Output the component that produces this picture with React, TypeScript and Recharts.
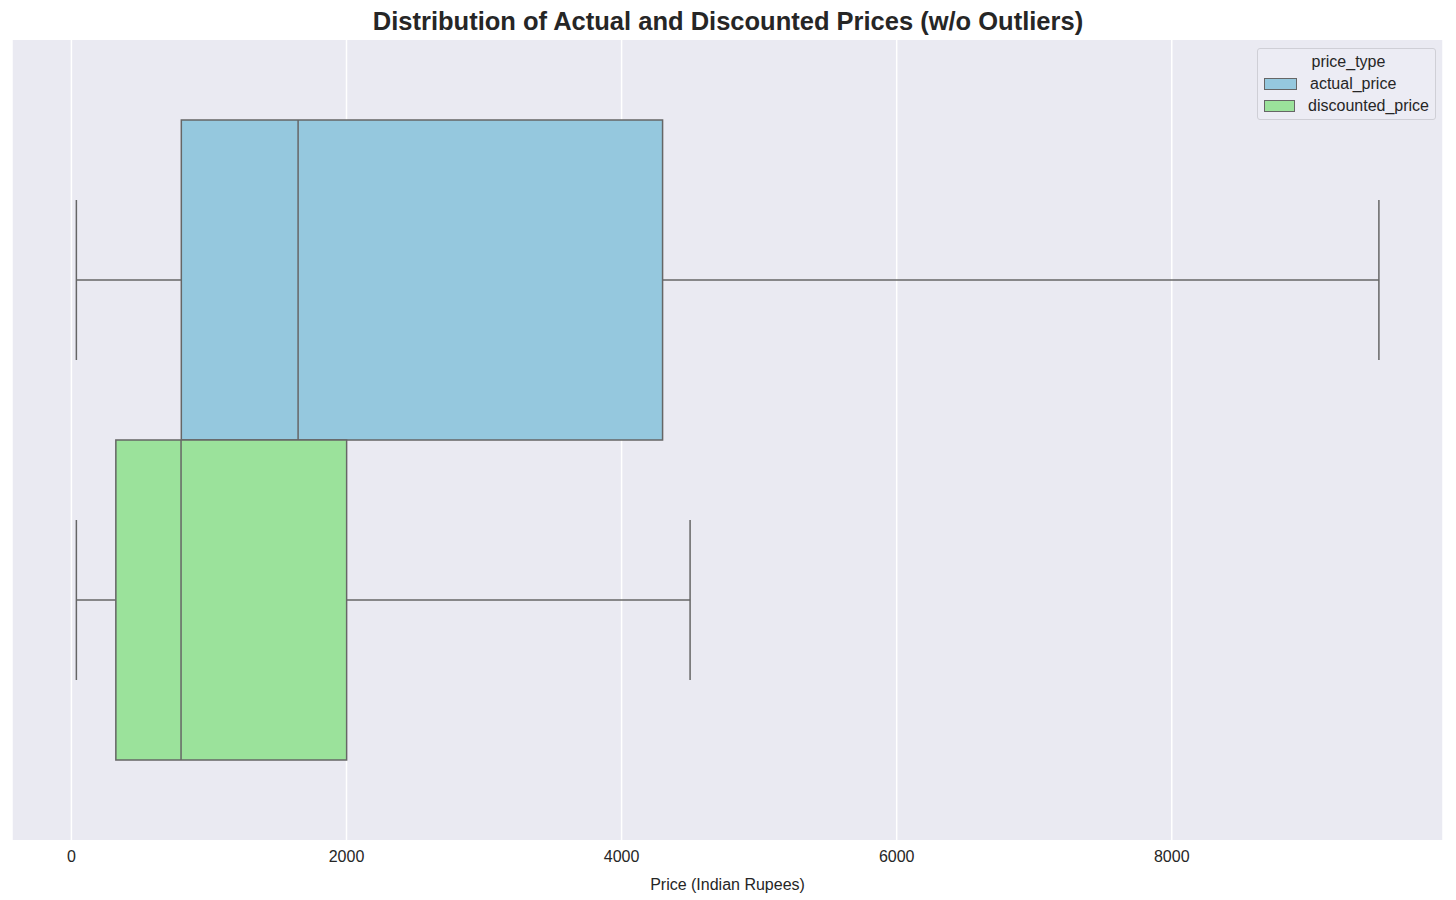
import React from "react";
import { BarChart, Bar, XAxis, YAxis, CartesianGrid } from "recharts";

// seaborn-style horizontal boxplot, outliers removed
const priceTypes = ["actual_price", "discounted_price"];
const boxColors = ["#95C8DE", "#9BE29B"];
const whiskerLow = [36, 36];
const q1 = [799, 323];
const median = [1648, 797];
const q3 = [4298, 2001];
const whiskerHigh = [9506, 4498];
const xTicks = [0, 2000, 4000, 6000, 8000];

const data = [
  {
    group: "price",
    actual_price: [whiskerLow[0], whiskerHigh[0]],
    discounted_price: [whiskerLow[1], whiskerHigh[1]],
  },
];

const LINE = "#666666";
const FONT = "'Liberation Sans', Arial, sans-serif";

function makeBoxShape(i: number) {
  return (props: any) => {
    const { x, y, width, height } = props;
    const lo = whiskerLow[i];
    const hi = whiskerHigh[i];
    const s = (v: number) => x + ((v - lo) * width) / (hi - lo);
    const cy = y + height / 2;
    const cap = height / 4;
    return (
      <g>
        <line x1={s(lo)} x2={s(q1[i])} y1={cy} y2={cy} stroke={LINE} strokeWidth={1.5} />
        <line x1={s(q3[i])} x2={s(hi)} y1={cy} y2={cy} stroke={LINE} strokeWidth={1.5} />
        <line x1={s(lo)} x2={s(lo)} y1={cy - cap} y2={cy + cap} stroke={LINE} strokeWidth={1.5} />
        <line x1={s(hi)} x2={s(hi)} y1={cy - cap} y2={cy + cap} stroke={LINE} strokeWidth={1.5} />
        <rect
          x={s(q1[i])}
          y={y}
          width={s(q3[i]) - s(q1[i])}
          height={height}
          fill={boxColors[i]}
          stroke={LINE}
          strokeWidth={1.5}
        />
        <line x1={s(median[i])} x2={s(median[i])} y1={y} y2={y + height} stroke={LINE} strokeWidth={1.5} />
      </g>
    );
  };
}

function LegendBox() {
  return (
    <div
      style={{
        position: "absolute",
        top: 48,
        left: 1257,
        width: 179,
        height: 72,
        boxSizing: "border-box",
        fontFamily: FONT,
        fontSize: 16,
        color: "#262626",
        background: "rgba(236,236,244,0.9)",
        border: "1px solid #cfcfd6",
        borderRadius: 3,
        padding: "2px 6px 0 6px",
        zIndex: 2,
      }}
    >
      <div style={{ textAlign: "center", lineHeight: "22px", paddingLeft: 4 }}>price_type</div>
      {priceTypes.map((name, i) => (
        <div key={name} style={{ display: "flex", alignItems: "center", lineHeight: "22px" }}>
          <span
            style={{
              display: "inline-block",
              width: 31,
              height: 10,
              background: boxColors[i],
              border: `1px solid ${LINE}`,
              marginRight: 13,
            }}
          />
          {name}
        </div>
      ))}
    </div>
  );
}

export default function App() {
  return (
    <div
      style={{
        position: "absolute",
        left: 0,
        top: 0,
        width: 1456,
        height: 900,
        background: "#ffffff",
        fontFamily: FONT,
      }}
    >
      <div
        style={{
          position: "absolute",
          top: 7,
          left: 0,
          width: 1456,
          textAlign: "center",
          fontSize: 25.5,
          fontWeight: "bold",
          color: "#262626",
          zIndex: 2,
        }}
      >
        Distribution of Actual and Discounted Prices (w/o Outliers)
      </div>
      <LegendBox />
      <BarChart
        width={1456}
        height={900}
        data={data}
        layout="vertical"
        margin={{ top: 40, right: 13, left: 12, bottom: 5 }}
        barCategoryGap="10%"
        barGap={0}
      >
        <CartesianGrid
          horizontal={false}
          fill="#EAEAF2"
          stroke="#ffffff"
          strokeWidth={1.5}
        />
        <XAxis
          type="number"
          domain={[-432, 9972]}
          ticks={xTicks}
          allowDataOverflow
          height={55}
          tickLine={false}
          axisLine={false}
          tickSize={0}
          tickMargin={11}
          tick={{ fill: "#262626", fontSize: 16, fontFamily: FONT }}
          label={{
            value: "Price (Indian Rupees)",
            position: "insideBottom",
            offset: 5,
            fill: "#262626",
            fontSize: 16,
            fontFamily: FONT,
          }}
        />
        <YAxis type="category" dataKey="group" hide />
        {priceTypes.map((name, i) => (
          <Bar
            key={name}
            dataKey={name}
            fill={boxColors[i]}
            shape={makeBoxShape(i)}
            isAnimationActive={false}
          />
        ))}
      </BarChart>
    </div>
  );
}
